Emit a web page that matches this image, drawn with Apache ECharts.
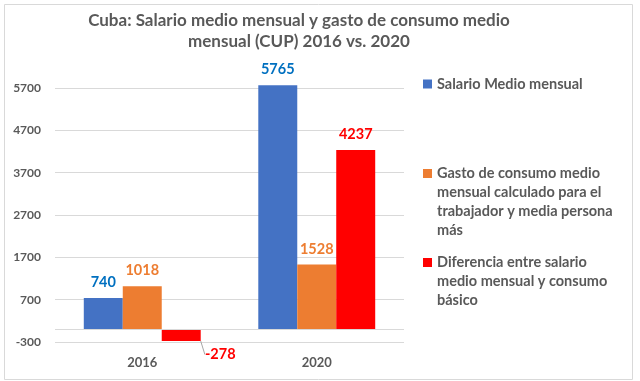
<!DOCTYPE html>
<html><head><meta charset="utf-8">
<script src="https://cdn.jsdelivr.net/npm/echarts@6/dist/echarts.min.js"></script>
<style>html,body{margin:0;padding:0;background:#fff}#c{width:640px;height:381px}</style>
</head><body><div id="c"></div>
<script>
const categories = ['2016', '2020'];
const salario = [740, 5765];
const gasto = [1018, 1528];
const diferencia = [-278, 4237];
const seriesNames = [
  'Salario Medio mensual',
  'Gasto de consumo medio mensual calculado para el trabajador y media persona más',
  'Diferencia entre salario medio mensual y consumo básico'
];
const legendLines = [
  'Salario Medio mensual',
  'Gasto de consumo medio\nmensual calculado para el\ntrabajador y media persona\nmás',
  'Diferencia entre salario\nmedio mensual y consumo\nbásico'
];
const titleText = 'Cuba: Salario medio mensual y gasto de consumo medio\nmensual (CUP) 2016 vs. 2020';

const FONT = 'Lato';
const GREY = '#595959';
function iconPath(h) { return 'path://M0,5L9,5L9,14L0,14Z M0,0L9,0 M0,' + h + 'L9,' + h; }
function legendFor(i, top, lines) {
  const h = lines * 19;
  return {
    data: [seriesNames[i]], left: 423, top: top, orient: 'vertical', padding: 0,
    icon: lines > 1 ? iconPath(h) : 'rect', itemWidth: 9, itemHeight: lines > 1 ? h : 9,
    itemGap: 0, selectedMode: false,
    formatter: () => legendLines[i],
    textStyle: { fontFamily: FONT, fontSize: 14.5, fontWeight: 'bold', color: GREY, lineHeight: 19 }
  };
}
const labelBase = { show: true, position: 'top', distance: 8, fontFamily: FONT, fontSize: 14.5, fontWeight: 'bold' };
const difData = diferencia.map(v => v < 0
  ? { value: v, label: { position: 'bottom', distance: 4 }, labelLine: { show: true } }
  : { value: v, labelLine: { show: false } });

const chart = echarts.init(document.getElementById('c'), null, { renderer: 'canvas' });
chart.setOption({
  animation: false,
  title: {
    text: titleText, left: 299, top: 10, textAlign: 'center', padding: 0,
    textStyle: { fontFamily: FONT, fontSize: 17, fontWeight: 'bold', color: GREY, lineHeight: 21 }
  },
  graphic: [{ type: 'rect', shape: { x: 4.5, y: 4.5, width: 628, height: 375 }, style: { fill: 'none', stroke: '#d9d9d9', lineWidth: 1 }, silent: true }],
  legend: [legendFor(0, 74.5, 1), legendFor(1, 164, 4), legendFor(2, 253, 3)],
  grid: { left: 55, right: 236, top: 88, bottom: 39 },
  xAxis: {
    type: 'category', data: categories,
    axisLine: { show: false, onZero: false }, axisTick: { show: false },
    axisLabel: { fontFamily: FONT, fontSize: 13, fontWeight: 'bold', color: GREY, margin: 14 }
  },
  yAxis: {
    type: 'value', min: -300, max: 5700, interval: 1000,
    axisLine: { show: false }, axisTick: { show: false },
    splitLine: { lineStyle: { color: '#d9d9d9', width: 1 } },
    axisLabel: { fontFamily: FONT, fontSize: 12, fontWeight: 'bold', color: GREY, margin: 14, formatter: v => String(v) }
  },
  series: [
    {
      name: seriesNames[0], type: 'bar', data: salario, clip: false,
      barGap: '0%', barCategoryGap: '33%',
      itemStyle: { color: '#4472C4' },
      label: Object.assign({}, labelBase, { color: '#0070C0' }),
      markLine: { silent: true, symbol: 'none', label: { show: false },
        lineStyle: { color: '#d9d9d9', type: 'solid', width: 1 }, data: [{ yAxis: 0 }] }
    },
    {
      name: seriesNames[1], type: 'bar', data: gasto, clip: false,
      itemStyle: { color: '#ED7D31' },
      label: Object.assign({}, labelBase, { color: '#ED7D31' })
    },
    {
      name: seriesNames[2], type: 'bar', data: difData, clip: false,
      itemStyle: { color: '#FF0000' },
      label: Object.assign({}, labelBase, { color: '#FF0000' }),
      labelLine: { lineStyle: { color: '#a6a6a6', width: 1 } },
      labelLayout: function (p) { return p.dataIndex === 0 ? { dx: 39, dy: 2 } : {}; }
    }
  ]
});
</script></body></html>
